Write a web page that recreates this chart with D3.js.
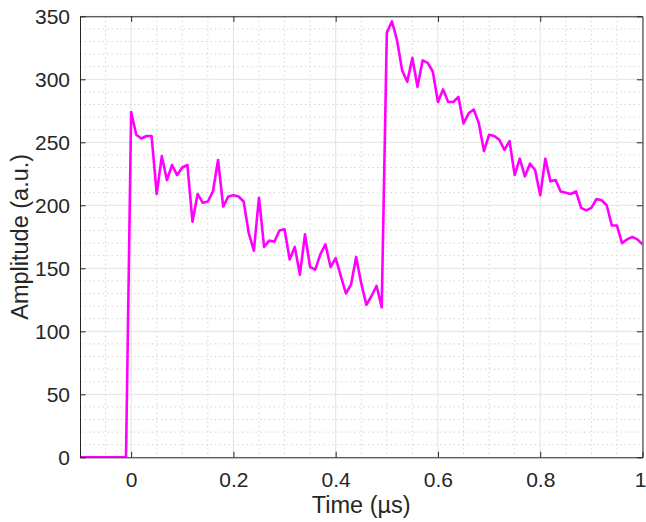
<!DOCTYPE html>
<html>
<head>
<meta charset="utf-8">
<script src="https://cdn.jsdelivr.net/npm/d3@7"></script>
<style>
  html, body { margin: 0; padding: 0; background: #fff; }
  svg { display: block; }
  text { font-family: "Liberation Sans", Arial, Helvetica, sans-serif; fill: #262626; }
</style>
</head>
<body>
<svg id="chart" width="646" height="522"></svg>
<script>
// ---- data ----
const timeUs = [
  -0.10, -0.01,
  0.00, 0.01, 0.02, 0.03, 0.04, 0.05, 0.06, 0.07, 0.08, 0.09,
  0.10, 0.11, 0.12, 0.13, 0.14, 0.15, 0.16, 0.17, 0.18, 0.19,
  0.20, 0.21, 0.22, 0.23, 0.24, 0.25, 0.26, 0.27, 0.28, 0.29,
  0.30, 0.31, 0.32, 0.33, 0.34, 0.35, 0.36, 0.37, 0.38, 0.39,
  0.40, 0.41, 0.42, 0.43, 0.44, 0.45, 0.46, 0.47, 0.48, 0.49,
  0.50, 0.51, 0.52, 0.53, 0.54, 0.55, 0.56, 0.57, 0.58, 0.59,
  0.60, 0.61, 0.62, 0.63, 0.64, 0.65, 0.66, 0.67, 0.68, 0.69,
  0.70, 0.71, 0.72, 0.73, 0.74, 0.75, 0.76, 0.77, 0.78, 0.79,
  0.80, 0.81, 0.82, 0.83, 0.84, 0.85, 0.86, 0.87, 0.88, 0.89,
  0.90, 0.91, 0.92, 0.93, 0.94, 0.95, 0.96, 0.97, 0.98, 0.99,
  1.00
];
const amplitude = [
  0, 0,
  274, 256, 253, 255, 255, 209, 239, 220, 232, 224,
  230, 232, 187, 209, 202, 203, 211, 236, 199, 207,
  208, 207, 203, 178, 164, 206, 167, 172, 171, 180,
  181, 157, 167, 145, 177, 151, 149, 161, 169, 151,
  158, 144, 130, 137, 159, 138, 121, 128, 136, 119,
  337, 346, 331, 307, 298, 317, 294, 315, 313, 306,
  282, 292, 282, 282, 286, 265, 273, 276, 265, 243,
  256, 255, 252, 244, 251, 224, 237, 223, 233, 228,
  208, 237, 219, 220, 211, 210, 209, 211, 198, 196,
  198, 205, 204, 200, 184, 184, 170, 173, 175, 173,
  169
];
const xDomain = [-0.1, 1];
const yDomain = [0, 350];
const xTicks = [0, 0.2, 0.4, 0.6, 0.8, 1];
const yTicks = [0, 50, 100, 150, 200, 250, 300, 350];
const xMinor = [-0.05, 0.05, 0.1, 0.15, 0.25, 0.3, 0.35, 0.45, 0.5, 0.55, 0.65, 0.7, 0.75, 0.85, 0.9, 0.95];
const yMinor = [10, 20, 30, 40, 60, 70, 80, 90, 110, 120, 130, 140, 160, 170, 180, 190,
                210, 220, 230, 240, 260, 270, 280, 290, 310, 320, 330, 340];
const xLabel = "Time (µs)";
const yLabel = "Amplitude (a.u.)";

// ---- layout ----
const svg = d3.select("#chart");
const L = 80, R = 642.5, T = 16.3, B = 457.3;
const x = d3.scaleLinear().domain(xDomain).range([L, R]);
const y = d3.scaleLinear().domain(yDomain).range([B, T]);
const axisColor = "#262626";

// minor grid
const g = svg.append("g");
g.selectAll("line.xm").data(xMinor).join("line")
  .attr("x1", d => x(d)).attr("x2", d => x(d)).attr("y1", T).attr("y2", B)
  .attr("stroke", "#d4d4d4").attr("stroke-width", 1).attr("stroke-dasharray", "1.5,3");
g.selectAll("line.ym").data(yMinor).join("line")
  .attr("y1", d => y(d)).attr("y2", d => y(d)).attr("x1", L).attr("x2", R)
  .attr("stroke", "#d4d4d4").attr("stroke-width", 1).attr("stroke-dasharray", "1.5,3");
// major grid
g.selectAll("line.xg").data(xTicks).join("line")
  .attr("x1", d => x(d)).attr("x2", d => x(d)).attr("y1", T).attr("y2", B)
  .attr("stroke", "#e3e3e3").attr("stroke-width", 1);
g.selectAll("line.yg").data(yTicks).join("line")
  .attr("y1", d => y(d)).attr("y2", d => y(d)).attr("x1", L).attr("x2", R)
  .attr("stroke", "#e3e3e3").attr("stroke-width", 1);

// data line
svg.append("clipPath").attr("id", "clip").append("rect")
  .attr("x", L).attr("y", T - 3).attr("width", R - L).attr("height", B - T + 3);
const pts = timeUs.map((t, i) => [t, amplitude[i]]);
svg.append("path")
  .datum(pts)
  .attr("clip-path", "url(#clip)")
  .attr("fill", "none")
  .attr("stroke", "#ff00ff")
  .attr("stroke-width", 2.6)
  .attr("stroke-linejoin", "round")
  .attr("d", d3.line().x(d => x(d[0])).y(d => y(d[1])));

// axes (MATLAB-like: box with inward ticks)
const tickLen = 5.6;
const fmt = d => d3.format("~g")(d);
const axB = svg.append("g").attr("transform", `translate(0,${B})`)
  .call(d3.axisBottom(x).tickValues(xTicks).tickFormat(fmt).tickSizeInner(-tickLen).tickSizeOuter(0).tickPadding(15));
const axT = svg.append("g").attr("transform", `translate(0,${T})`)
  .call(d3.axisTop(x).tickValues(xTicks).tickFormat("").tickSizeInner(-tickLen).tickSizeOuter(0));
const axL = svg.append("g").attr("transform", `translate(${L},0)`)
  .call(d3.axisLeft(y).tickValues(yTicks).tickFormat(fmt).tickSizeInner(-tickLen).tickSizeOuter(0).tickPadding(10));
const axR = svg.append("g").attr("transform", `translate(${R},0)`)
  .call(d3.axisRight(y).tickValues(yTicks).tickFormat("").tickSizeInner(-tickLen).tickSizeOuter(0));
[axB, axT, axL, axR].forEach(a => {
  a.select(".domain").attr("stroke", axisColor).attr("stroke-width", 1);
  a.selectAll(".tick line").attr("stroke", axisColor).attr("stroke-width", 1);
  a.selectAll(".tick text").attr("fill", axisColor)
    .style("font-family", '"Liberation Sans", Arial, sans-serif').style("font-size", "21px");
});
// keep the last x label inside the window
axB.selectAll(".tick").filter(d => d === 1).select("text").attr("x", -2.4);
// avoid double tick at box edges
axT.selectAll(".tick").filter(d => d === 1).remove();

// axis labels
svg.append("text")
  .attr("x", (L + R) / 2).attr("y", 513)
  .attr("text-anchor", "middle")
  .style("font-size", "23.5px")
  .text(xLabel);
svg.append("text")
  .attr("transform", `translate(28,${(T + B) / 2}) rotate(-90)`)
  .attr("text-anchor", "middle")
  .style("font-size", "23.5px")
  .text(yLabel);
</script>
</body>
</html>
